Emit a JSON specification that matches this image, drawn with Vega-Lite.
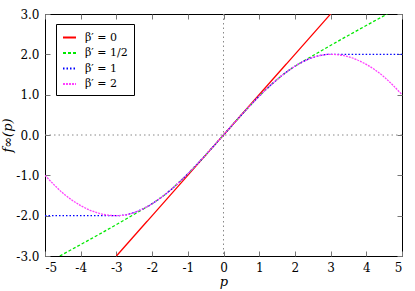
{
  "$schema": "https://vega.github.io/schema/vega-lite/v6.json",
  "width": 357,
  "height": 242,
  "autosize": "none",
  "padding": {"left": 45, "top": 14, "right": 13, "bottom": 35},
  "config": {
    "font": "DejaVu Serif",
    "view": {"stroke": "#000000", "strokeWidth": 1},
    "axis": {
      "labelFont": "DejaVu Serif",
      "titleFont": "DejaVu Serif",
      "labelFontSize": 12,
      "titleFontSize": 13,
      "titleFontWeight": "normal",
      "labelColor": "#000000",
      "titleColor": "#000000",
      "grid": false,
      "domain": false,
      "tickColor": "#777777",
      "tickSize": -5,
      "tickWidth": 1
    },
    "legend": {"labelFont": "DejaVu Serif"}
  },
  "datasets": {
    "zero": [{"v": 0}],
    "curves": [
      {"s": "β′ = 0", "p": -3, "f": -3},
      {"s": "β′ = 0", "p": 3, "f": 3},
      {"s": "β′ = 1/2", "p": -4.586, "f": -3},
      {"s": "β′ = 1/2", "p": -2.121, "f": -1.768},
      {"s": "β′ = 1/2", "p": -2, "f": -1.7037},
      {"s": "β′ = 1/2", "p": -1.75, "f": -1.5515},
      {"s": "β′ = 1/2", "p": -1.5, "f": -1.375},
      {"s": "β′ = 1/2", "p": -1.25, "f": -1.1777},
      {"s": "β′ = 1/2", "p": -1, "f": -0.963},
      {"s": "β′ = 1/2", "p": -0.75, "f": -0.7344},
      {"s": "β′ = 1/2", "p": -0.5, "f": -0.4954},
      {"s": "β′ = 1/2", "p": -0.25, "f": -0.2494},
      {"s": "β′ = 1/2", "p": 0, "f": 0},
      {"s": "β′ = 1/2", "p": 0.25, "f": 0.2494},
      {"s": "β′ = 1/2", "p": 0.5, "f": 0.4954},
      {"s": "β′ = 1/2", "p": 0.75, "f": 0.7344},
      {"s": "β′ = 1/2", "p": 1, "f": 0.963},
      {"s": "β′ = 1/2", "p": 1.25, "f": 1.1777},
      {"s": "β′ = 1/2", "p": 1.5, "f": 1.375},
      {"s": "β′ = 1/2", "p": 1.75, "f": 1.5515},
      {"s": "β′ = 1/2", "p": 2, "f": 1.7037},
      {"s": "β′ = 1/2", "p": 2.121, "f": 1.768},
      {"s": "β′ = 1/2", "p": 4.586, "f": 3},
      {"s": "β′ = 1", "p": -5, "f": -2},
      {"s": "β′ = 1", "p": -3, "f": -2},
      {"s": "β′ = 1", "p": -2.75, "f": -1.9797},
      {"s": "β′ = 1", "p": -2.5, "f": -1.9213},
      {"s": "β′ = 1", "p": -2.25, "f": -1.8281},
      {"s": "β′ = 1", "p": -2, "f": -1.7037},
      {"s": "β′ = 1", "p": -1.75, "f": -1.5515},
      {"s": "β′ = 1", "p": -1.5, "f": -1.375},
      {"s": "β′ = 1", "p": -1.25, "f": -1.1777},
      {"s": "β′ = 1", "p": -1, "f": -0.963},
      {"s": "β′ = 1", "p": -0.75, "f": -0.7344},
      {"s": "β′ = 1", "p": -0.5, "f": -0.4954},
      {"s": "β′ = 1", "p": -0.25, "f": -0.2494},
      {"s": "β′ = 1", "p": 0, "f": 0},
      {"s": "β′ = 1", "p": 0.25, "f": 0.2494},
      {"s": "β′ = 1", "p": 0.5, "f": 0.4954},
      {"s": "β′ = 1", "p": 0.75, "f": 0.7344},
      {"s": "β′ = 1", "p": 1, "f": 0.963},
      {"s": "β′ = 1", "p": 1.25, "f": 1.1777},
      {"s": "β′ = 1", "p": 1.5, "f": 1.375},
      {"s": "β′ = 1", "p": 1.75, "f": 1.5515},
      {"s": "β′ = 1", "p": 2, "f": 1.7037},
      {"s": "β′ = 1", "p": 2.25, "f": 1.8281},
      {"s": "β′ = 1", "p": 2.5, "f": 1.9213},
      {"s": "β′ = 1", "p": 2.75, "f": 1.9797},
      {"s": "β′ = 1", "p": 3, "f": 2},
      {"s": "β′ = 1", "p": 5, "f": 2},
      {"s": "β′ = 2", "p": -5, "f": -1},
      {"s": "β′ = 2", "p": -4.75, "f": -1.23},
      {"s": "β′ = 2", "p": -4.5, "f": -1.44},
      {"s": "β′ = 2", "p": -4.25, "f": -1.61},
      {"s": "β′ = 2", "p": -4, "f": -1.75},
      {"s": "β′ = 2", "p": -3.75, "f": -1.86},
      {"s": "β′ = 2", "p": -3.5, "f": -1.94},
      {"s": "β′ = 2", "p": -3.25, "f": -1.985},
      {"s": "β′ = 2", "p": -3, "f": -2},
      {"s": "β′ = 2", "p": -2.75, "f": -1.9797},
      {"s": "β′ = 2", "p": -2.5, "f": -1.9213},
      {"s": "β′ = 2", "p": -2.25, "f": -1.8281},
      {"s": "β′ = 2", "p": -2, "f": -1.7037},
      {"s": "β′ = 2", "p": -1.75, "f": -1.5515},
      {"s": "β′ = 2", "p": -1.5, "f": -1.375},
      {"s": "β′ = 2", "p": -1.25, "f": -1.1777},
      {"s": "β′ = 2", "p": -1, "f": -0.963},
      {"s": "β′ = 2", "p": -0.75, "f": -0.7344},
      {"s": "β′ = 2", "p": -0.5, "f": -0.4954},
      {"s": "β′ = 2", "p": -0.25, "f": -0.2494},
      {"s": "β′ = 2", "p": 0, "f": 0},
      {"s": "β′ = 2", "p": 0.25, "f": 0.2494},
      {"s": "β′ = 2", "p": 0.5, "f": 0.4954},
      {"s": "β′ = 2", "p": 0.75, "f": 0.7344},
      {"s": "β′ = 2", "p": 1, "f": 0.963},
      {"s": "β′ = 2", "p": 1.25, "f": 1.1777},
      {"s": "β′ = 2", "p": 1.5, "f": 1.375},
      {"s": "β′ = 2", "p": 1.75, "f": 1.5515},
      {"s": "β′ = 2", "p": 2, "f": 1.7037},
      {"s": "β′ = 2", "p": 2.25, "f": 1.8281},
      {"s": "β′ = 2", "p": 2.5, "f": 1.9213},
      {"s": "β′ = 2", "p": 2.75, "f": 1.9797},
      {"s": "β′ = 2", "p": 3, "f": 2},
      {"s": "β′ = 2", "p": 3.25, "f": 1.985},
      {"s": "β′ = 2", "p": 3.5, "f": 1.94},
      {"s": "β′ = 2", "p": 3.75, "f": 1.86},
      {"s": "β′ = 2", "p": 4, "f": 1.75},
      {"s": "β′ = 2", "p": 4.25, "f": 1.61},
      {"s": "β′ = 2", "p": 4.5, "f": 1.44},
      {"s": "β′ = 2", "p": 4.75, "f": 1.23},
      {"s": "β′ = 2", "p": 5, "f": 1}
    ]
  },
  "layer": [
    {
      "data": {"name": "zero"},
      "mark": {"type": "rule", "color": "#888888", "strokeDash": [1.5, 3], "strokeWidth": 1},
      "encoding": {
        "x": {"field": "v", "type": "quantitative", "scale": {"domain": [-5, 5], "nice": false},
              "axis": {"orient": "top", "labels": false, "title": null, "values": [-5, -4, -3, -2, -1, 0, 1, 2, 3, 4, 5]}}
      }
    },
    {
      "data": {"name": "zero"},
      "mark": {"type": "rule", "color": "#888888", "strokeDash": [1.5, 3], "strokeWidth": 1},
      "encoding": {
        "y": {"field": "v", "type": "quantitative", "scale": {"domain": [-3, 3], "nice": false},
              "axis": {"orient": "right", "labels": false, "title": null, "values": [-3, -2, -1, 0, 1, 2, 3]}}
      }
    },
    {
      "data": {"name": "curves"},
      "mark": {"type": "line", "interpolate": "monotone", "strokeWidth": 1.3, "clip": true},
      "encoding": {
        "x": {"field": "p", "type": "quantitative", "scale": {"domain": [-5, 5], "nice": false},
              "axis": {"orient": "bottom", "title": "p", "titleFontStyle": "italic", "titlePadding": 2,
                       "values": [-5, -4, -3, -2, -1, 0, 1, 2, 3, 4, 5], "labelPadding": 11,
                       "labelExpr": "datum.value < 0 ? '-' + format(-datum.value, 'd') : format(datum.value, 'd')"}},
        "y": {"field": "f", "type": "quantitative", "scale": {"domain": [-3, 3], "nice": false},
              "axis": {"orient": "left", "title": "f∞(p)", "titleFontStyle": "italic", "titlePadding": 1,
                       "values": [-3, -2, -1, 0, 1, 2, 3], "labelPadding": 11,
                       "labelExpr": "datum.value < 0 ? '-' + format(-datum.value, '.1f') : format(datum.value, '.1f')"}},
        "color": {"field": "s", "type": "nominal", "title": null,
                  "scale": {"domain": ["β′ = 0", "β′ = 1/2", "β′ = 1", "β′ = 2"], "range": ["#ff0000", "#00e800", "#0000ff", "#ff40ff"]},
                  "legend": {"orient": "none", "legendX": 11, "legendY": 10, "strokeColor": "#000000", "padding": 6,
                             "fillColor": "#ffffff", "symbolType": "stroke", "symbolSize": 169, "symbolStrokeWidth": 2,
                             "labelFontSize": 11, "labelColor": "#000000", "rowPadding": 2.5, "labelOffset": 8}},
        "strokeDash": {"field": "s", "type": "nominal", "title": null,
                       "scale": {"domain": ["β′ = 0", "β′ = 1/2", "β′ = 1", "β′ = 2"], "range": [[1, 0], [3, 2], [1.5, 2], [2, 1]]},
                       "legend": {"orient": "none", "legendX": 11, "legendY": 10}}
      }
    }
  ],
  "resolve": {"axis": {"x": "independent", "y": "independent"}}
}
